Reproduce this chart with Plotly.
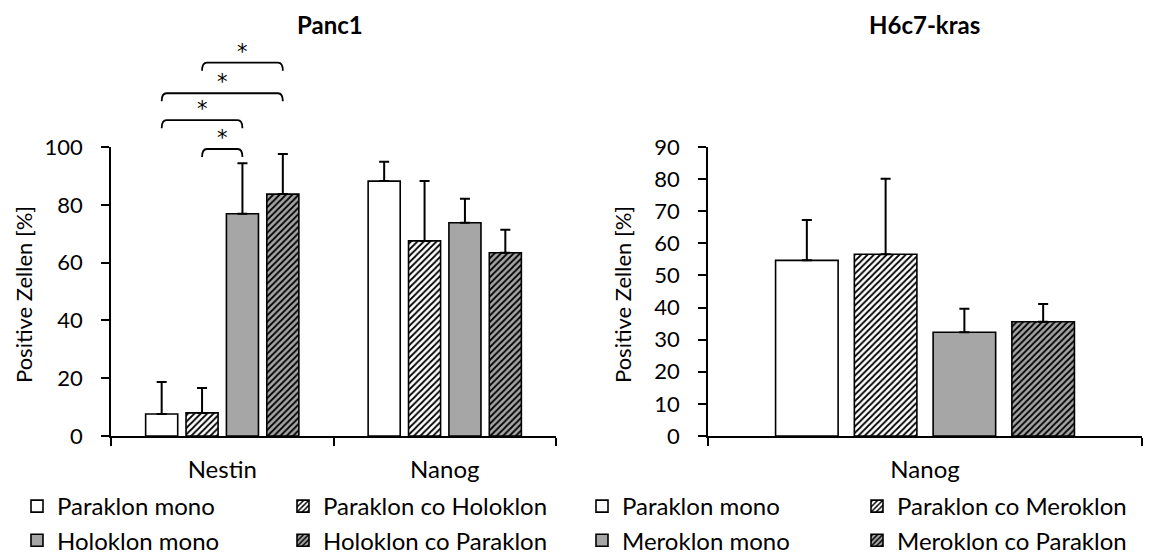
import plotly.graph_objects as go

# ---------------- data ----------------
panc_categories = ["Nestin", "Nanog"]
panc_series = ["Paraklon mono", "Paraklon co Holoklon", "Holoklon mono", "Holoklon co Paraklon"]
panc_values = [
    [7.6, 88.2],
    [8.0, 67.5],
    [76.9, 73.8],
    [83.7, 63.4],
]
panc_errors = [
    [11.1, 6.7],
    [8.6, 20.7],
    [17.5, 8.3],
    [13.9, 8.0],
]

h6_categories = ["Nanog"]
h6_series = ["Paraklon mono", "Paraklon co Meroklon", "Meroklon mono", "Meroklon co Paraklon"]
h6_values = [[54.7], [56.6], [32.3], [35.6]]
h6_errors = [[12.6], [23.5], [7.3], [5.5]]

panc_ymax = 100
h6_ymax = 90
panc_ticks = [0, 20, 40, 60, 80, 100]
h6_ticks = [0, 10, 20, 30, 40, 50, 60, 70, 80, 90]

# significance brackets on Panc1 / Nestin: (bar a, bar b, level)
sig_brackets = [(1, 3, 129.2), (0, 3, 118.6), (0, 2, 109.3), (1, 2, 99.3)]

# ---------------- style ----------------
FONT = "Lato"
FS_TICK = 22
FS_XLAB = 24
FS_LEG = 24
FS_TITLE = 24
FS_YT = 22
GRAY = "#a6a6a6"
fills = ["white", "white", GRAY, GRAY]
patterns = ["", "/", "", "/"]
BARGAP = 0.274
GROUPGAP = 0.206

OFF = 8  # page body margin of the html page
W, H = 1164 - OFF, 555 - OFF
ML, MR = 111 - OFF, 22
MT = 147 - OFF
MB = H - (436 - OFF)
PW = W - ML - MR
PH = H - MT - MB


def px_x(p):
    return (p - OFF - ML) / PW


def px_y(p):
    return (H - MB - (p - OFF)) / PH


fig = go.Figure()


def add_bars(cats, names, vals, errs, xa, ya, legends):
    for i, name in enumerate(names):
        pat = dict(shape=patterns[i], fgcolor="black", bgcolor=fills[i], size=4.5, solidity=0.4,
                   fillmode="replace") if patterns[i] else dict(shape="")
        fig.add_trace(go.Bar(
            x=cats, y=vals[i], name=name,
            xaxis=xa, yaxis=ya,
            marker=dict(color=fills[i], line=dict(color="black", width=1.6), pattern=pat),
            error_y=dict(type="data", array=errs[i], arrayminus=[0] * len(errs[i]),
                         symmetric=False, color="black", thickness=2, width=5),
            legend=legends[i],
        ))


add_bars(panc_categories, panc_series, panc_values, panc_errors, "x", "y",
         ["legend", "legend2", "legend", "legend2"])
add_bars(h6_categories, h6_series, h6_values, h6_errors, "x2", "y2",
         ["legend3", "legend4", "legend3", "legend4"])

axis_common = dict(showline=True, linecolor="black", linewidth=1.5, showgrid=False, zeroline=False,
                   ticks="outside", tickcolor="black", tickwidth=1.5, ticklen=8)
xfont = dict(family=FONT, size=FS_XLAB, color="black")
yfont = dict(family=FONT, size=FS_TICK, color="black")

left_dom = [0, px_x(556)]
right_dom = [px_x(708), 1]

fig.update_layout(
    width=W, height=H,
    margin=dict(l=ML, r=MR, t=MT, b=MB, autoexpand=False),
    plot_bgcolor="white", paper_bgcolor="white",
    barmode="group", bargap=BARGAP, bargroupgap=GROUPGAP,
    font=dict(family=FONT, size=FS_TICK, color="black"),
    xaxis=dict(domain=left_dom, anchor="y", type="category", tickson="boundaries",
               ticklabelstandoff=11, tickfont=xfont, **axis_common),
    yaxis=dict(domain=[0, 1], anchor="x", range=[0, panc_ymax], tickvals=panc_ticks,
               ticklabelstandoff=14, tickfont=yfont, **axis_common),
    xaxis2=dict(domain=right_dom, anchor="y2", type="category", tickson="boundaries",
                ticklabelstandoff=11, tickfont=xfont, **axis_common),
    yaxis2=dict(domain=[0, 1], anchor="x2", range=[0, h6_ymax], tickvals=h6_ticks,
                ticklabelstandoff=14, tickfont=yfont, **axis_common),
)

leg_common = dict(orientation="v", font=dict(family=FONT, size=FS_LEG, color="black"),
                  bgcolor="rgba(0,0,0,0)", yanchor="top", xanchor="left", y=px_y(484),
                  itemclick=False, itemdoubleclick=False, tracegroupgap=0)
fig.update_layout(
    legend=dict(x=px_x(17), **leg_common),
    legend2=dict(x=px_x(283), **leg_common),
    legend3=dict(x=px_x(582), **leg_common),
    legend4=dict(x=px_x(857), **leg_common),
)

# titles
annos = [
    dict(text="<b>Panc1</b>", x=px_x(330), y=px_y(25), size=FS_TITLE, angle=0),
    dict(text="<b>H6c7-kras</b>", x=px_x(924), y=px_y(25), size=FS_TITLE, angle=0),
    dict(text="Positive Zellen [%]", x=px_x(23), y=px_y(295), size=FS_YT, angle=-90),
    dict(text="Positive Zellen [%]", x=px_x(622), y=px_y(295), size=FS_YT, angle=-90),
]
for a in annos:
    fig.add_annotation(xref="paper", yref="paper", showarrow=False, xanchor="center", yanchor="middle",
                       text=a["text"], x=a["x"], y=a["y"], textangle=a["angle"],
                       font=dict(family=FONT, size=a["size"], color="black"))

# significance brackets
slot = (1 - BARGAP) / len(panc_series)
d = 0.022
drop = 2.8
for a, b, lvl in sig_brackets:
    xa_ = (a - 1.5) * slot
    xb_ = (b - 1.5) * slot
    yt = lvl / panc_ymax
    yb = (lvl - drop) / panc_ymax
    path = (f"M {xa_},{yb} Q {xa_},{yt} {xa_ + d},{yt} L {xb_ - d},{yt} "
            f"Q {xb_},{yt} {xb_},{yb}")
    fig.add_shape(type="path", path=path, xref="x", yref="paper",
                  line=dict(color="black", width=1.8))
    fig.add_annotation(x=(xa_ + xb_) / 2, y=yt - 0.01, xref="x", yref="paper", text="*",
                       showarrow=False, yanchor="bottom", xanchor="center",
                       font=dict(family="DejaVu Sans", size=21, color="black"))

fig.write_html("out.html")
